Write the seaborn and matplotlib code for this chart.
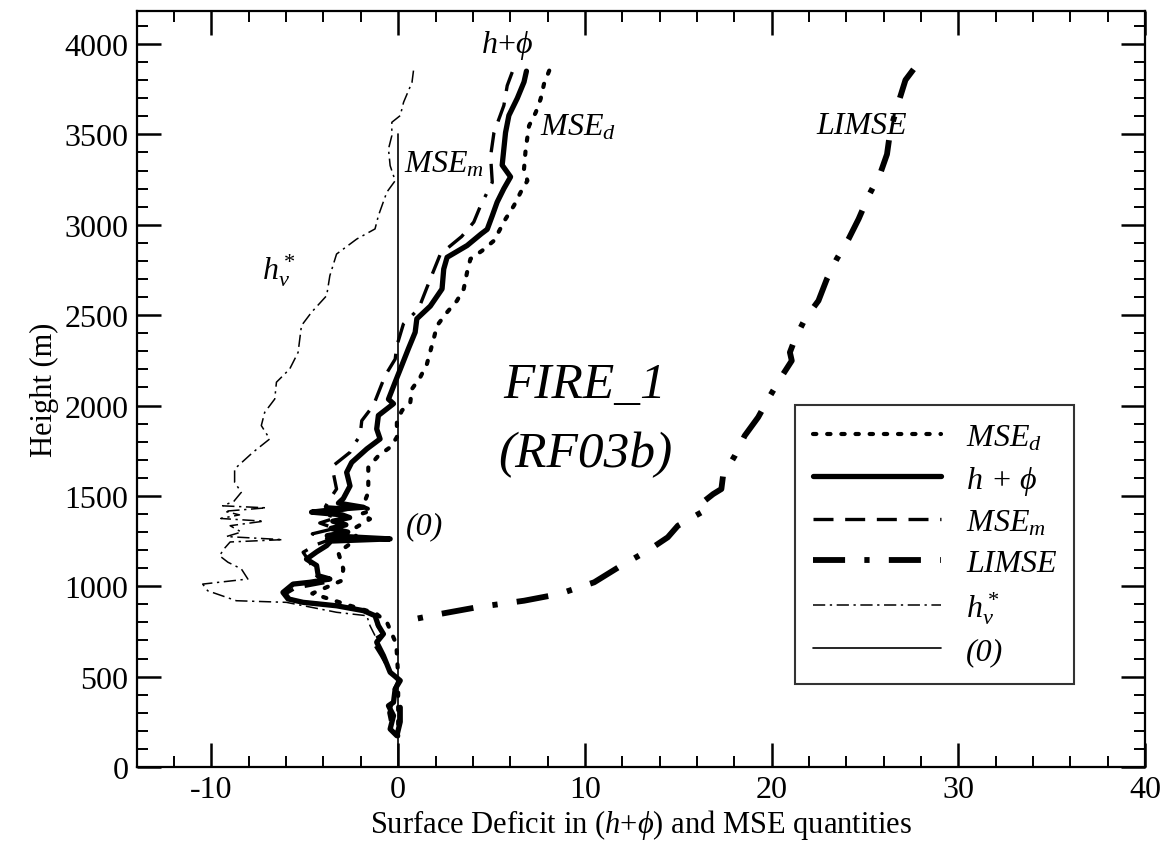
# FIRE_1 (RF03b) surface deficit profiles
import numpy as np
import matplotlib
matplotlib.use("Agg")
import matplotlib.pyplot as plt
import seaborn as sns

# ---- data (deficit, height m) ----
hphi_x = [6.87, 6.74, 6.38, 5.93, 5.75, 5.66, 5.57, 6.02, 5.66, 5.30, 5.04, 4.77, 4.45, 3.69, 2.62,
          2.44, 2.35, 1.72, 1.00, 0.91, 0.55, 0.11, -0.16, -0.52, -0.25, -1.06, -1.15, -0.97, -1.68,
          -2.49, -2.76, -2.58, -2.94, -3.20, -1.86, -3.40, -4.64, -3.00, -2.60, -3.50, -2.80, -3.60,
          -2.70, -3.80, -0.43, -3.60, -3.83, -4.37, -4.91, -4.37, -4.28, -3.66, -4.73, -5.63, -6.17,
          -5.90, -5.09, -3.30, -1.86, -1.24, -1.06, -0.79, -1.15, -0.79, -0.43, 0.11, -0.16, -0.25,
          -0.52, -0.25, -0.43, -0.07, 0.11, 0.11]
hphi_y = [3850, 3790, 3700, 3605, 3510, 3420, 3330, 3265, 3200, 3125, 3050, 2975, 2950, 2885, 2820,
          2755, 2645, 2550, 2480, 2405, 2315, 2200, 2130, 2035, 2010, 1945, 1870, 1815, 1760,
          1685, 1630, 1555, 1485, 1460, 1437, 1425, 1410, 1395, 1380, 1360, 1340, 1320,
          1300, 1280, 1262, 1250, 1225, 1190, 1150, 1115, 1058, 1040, 1022, 1012, 966,
          930, 911, 892, 865, 837, 782, 736, 690, 616, 524, 478, 432, 358,
          339, 284, 210, 173, 250, 330]

msem_x = [6.11, 5.84, 5.66, 5.13, 4.95, 5.04, 4.41, 4.05, 3.40, 2.26, 1.72, 1.09, 0.28, -0.07, -0.16,
          -0.70, -1.33, -1.95, -2.04, -2.40, -2.58, -3.48, -3.48, -3.30, -3.66, -3.90, -2.50, -4.00,
          -3.30, -4.20, -3.40, -4.60, -3.60, -4.40, -5.09, -4.73, -4.37, -3.83, -5.50, -6.00, -5.80,
          -5.00, -3.30, -1.90, -1.30, -1.10, -0.80, -1.40, -0.90, -0.40, 0.00, -0.20, -0.30, -0.50,
          -0.30, 0.00]
msem_y = [3845, 3770, 3660, 3510, 3380, 3235, 3105, 3015, 2935, 2838, 2700, 2534, 2451, 2331, 2257,
          2165, 2000, 1916, 1833, 1778, 1741, 1667, 1630, 1538, 1483, 1440, 1430, 1400,
          1380, 1350, 1320, 1290, 1260, 1230, 1188, 1133, 1058, 1022, 990, 960, 930,
          912, 893, 866, 838, 782, 736, 700, 616, 524, 478, 432, 358, 300,
          200, 175]

msed_x = [8.09, 7.81, 7.63, 7.37, 7.01, 6.83, 6.74, 6.92, 6.56, 6.20, 5.75, 5.13, 4.50, 3.87, 3.69,
          3.51, 3.15, 2.62, 2.08, 1.90, 1.54, 1.18, 0.74, 0.65, 0.20, -0.07, -0.07, -0.43, -1.06,
          -1.60, -1.60, -1.60, -1.90, -1.40, -2.00, -1.51, -2.40, -2.20, -3.21, -2.94, -3.03, -4.60,
          -2.50, -1.20, -0.60, -0.10, 0.00, 0.00]
msed_y = [3853, 3779, 3696, 3622, 3548, 3419, 3309, 3244, 3180, 3106, 3032, 2912, 2857, 2811, 2737,
          2645, 2580, 2516, 2442, 2368, 2230, 2156, 2092, 2018, 1972, 1907, 1824, 1769, 1722,
          1658, 1584, 1520, 1440, 1420, 1400, 1372, 1317, 1262, 1188, 1096, 1031, 960,
          890, 850, 800, 680, 500, 170]

limse_x = [27.60, 27.17, 26.81, 26.36, 26.18, 25.82, 25.20, 24.66, 24.12, 23.49, 22.96, 22.51, 21.79,
           21.25, 20.98, 21.08, 20.45, 19.82, 19.28, 18.56, 18.03, 17.40, 17.31, 16.87, 15.97,
           16.24, 14.98, 14.44, 13.37, 11.94, 10.50, 8.62, 6.74, 4.23, 2.26, 0.47]
limse_y = [3860, 3801, 3682, 3523, 3390, 3284, 3161, 3032, 2921, 2811, 2700, 2580, 2479,
           2368, 2294, 2248, 2147, 2036, 1935, 1833, 1722, 1612, 1538, 1510, 1437,
           1409, 1335, 1271, 1197, 1114, 1022, 957, 920, 884, 847, 810]

hv_x = [0.82, 0.74, 0.29, 0.11, -0.34, -0.34, -0.52, -0.43, -0.16, -0.61, -1.06, -1.24, -2.22, -3.30,
        -3.66, -3.83, -4.64, -5.18, -5.27, -5.36, -5.81, -6.52, -6.61, -7.15, -7.33, -6.88, -7.78,
        -8.76, -8.76, -8.40, -8.80, -9.40, -7.06, -9.30, -8.50, -9.50, -7.20, -9.00, -8.40, -9.20,
        -6.17, -9.00, -9.30, -9.57, -9.12, -8.40, -8.05, -10.47, -10.20, -8.67, -5.99, -3.30, -1.68,
        -1.51, -1.15, -1.30]
hv_y = [3853, 3788, 3678, 3604, 3567, 3493, 3419, 3327, 3244, 3180, 3050, 2977, 2921, 2838,
        2718, 2608, 2516, 2442, 2368, 2294, 2202, 2129, 2036, 1962, 1889, 1815, 1741,
        1649, 1575, 1520, 1470, 1445, 1434, 1415, 1395, 1375, 1360, 1335, 1300, 1275,
        1258, 1245, 1210, 1169, 1133, 1096, 1040, 1012, 975, 920, 911, 856, 837,
        782, 708, 680]

zero_x = [0, 0]
zero_y = [0, 3500]

# ---- style ----
sns.set_style("ticks")
plt.rcParams['font.family'] = ['Liberation Serif', 'DejaVu Serif']
plt.rcParams['mathtext.fontset'] = 'custom'
plt.rcParams['mathtext.rm'] = 'Liberation Serif'
plt.rcParams['mathtext.it'] = 'Liberation Serif:italic'
plt.rcParams['axes.linewidth'] = 1.6
plt.rcParams['axes.unicode_minus'] = False
for k in ['text.color', 'axes.labelcolor', 'xtick.color', 'ytick.color', 'axes.edgecolor']:
    plt.rcParams[k] = 'black'

fig = plt.figure(figsize=(11.69, 8.54), dpi=100)
ax = fig.add_axes([0.117, 0.1007, 0.8625, 0.8853])

lw_kw = dict(sort=False, estimator=None, color='black', ax=ax)
sns.lineplot(x=msed_x, y=msed_y, lw=3.0, linestyle=(0, (0.8, 2.6)),
             dash_capstyle='round', label=r'$MSE_d$', **lw_kw)
sns.lineplot(x=hphi_x, y=hphi_y, lw=3.8, label=r'$h$ + $\phi$', **lw_kw)
sns.lineplot(x=msem_x, y=msem_y, lw=2.4, linestyle=(0, (6, 3.5, 6, 3.5, 6, 3.5, 6, 3.5, 1, 3.5)),
             label=r'$MSE_m$', **lw_kw)
sns.lineplot(x=limse_x, y=limse_y, lw=4.2, linestyle=(0, (5.5, 3.3, 0.9, 3.3)),
             label='LIMSE', **lw_kw)
sns.lineplot(x=hv_x, y=hv_y, lw=1.1, linestyle=(0, (8, 3, 1.5, 3)),
             label=r'$h_v^*$', **lw_kw)
sns.lineplot(x=zero_x, y=zero_y, lw=1.2, label='(0)', **lw_kw)

ax.set_xlim(-14, 40)
ax.set_ylim(0, 4183)
ax.set_xticks([-10, 0, 10, 20, 30, 40])
ax.set_xticks(np.arange(-14, 41, 2), minor=True)
ax.set_yticks(np.arange(0, 4001, 500))
ax.set_yticks(np.arange(0, 4183, 100), minor=True)
ax.tick_params(which='both', direction='in', top=True, right=True, labelsize=23)
ax.tick_params(which='major', length=17, width=1.8, pad=6)
ax.tick_params(which='minor', length=8, width=1.4)

ax.set_xlabel(r'Surface Deficit in $\mathit{(h{+}\phi)}$ and MSE quantities', fontsize=22, labelpad=2)
ax.set_ylabel('Height (m)', fontsize=22, labelpad=4)

# ---- annotations ----
ax.text(5.8, 3995, r'$h$+$\phi$', fontsize=23, ha='center', va='center')
ax.text(7.6, 3545, r'$MSE_d$', fontsize=23, ha='left', va='center')
ax.text(0.3, 3340, r'$MSE_m$', fontsize=23, ha='left', va='center')
ax.text(24.8, 3550, 'LIMSE', fontsize=23, style='italic', ha='center', va='center')
ax.text(-6.4, 2750, r'$h_v^*$', fontsize=23, ha='center', va='center')
ax.text(0.4, 1335, '(0)', fontsize=23, style='italic', ha='left', va='center')
ax.text(10.0, 2115, 'FIRE_1', fontsize=37, style='italic', ha='center', va='center')
ax.text(10.0, 1730, '(RF03b)', fontsize=37, style='italic', ha='center', va='center')

leg = ax.legend(loc='lower left', bbox_to_anchor=(0.653, 0.11), fontsize=23, frameon=True,
                fancybox=False, edgecolor='black', handlelength=4.0, labelspacing=0.35,
                borderpad=0.55, handletextpad=0.8, borderaxespad=0)
leg.get_frame().set_linewidth(1.5)
for t in leg.get_texts():
    t.set_style('italic')

fig.savefig('out.png', dpi=100)
